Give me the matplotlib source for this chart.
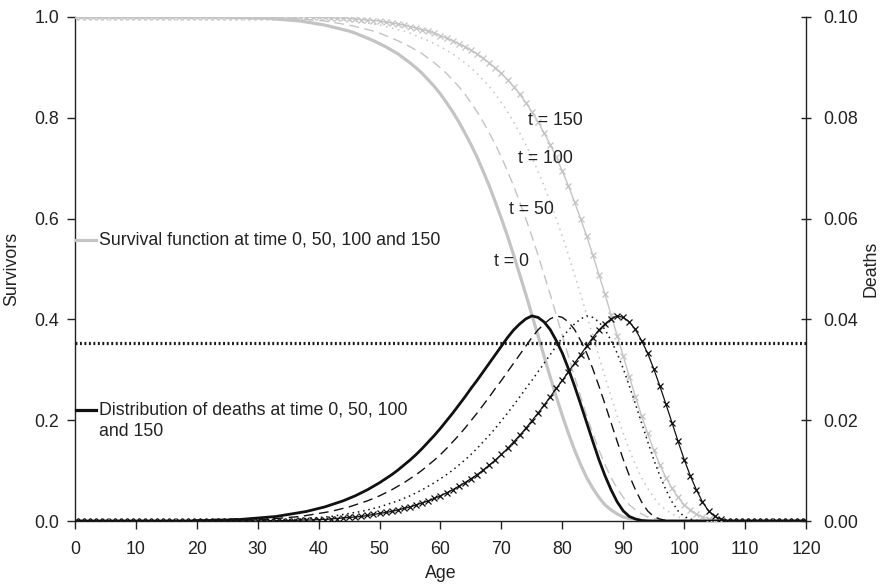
import matplotlib
matplotlib.use("Agg")
import matplotlib.pyplot as plt

plt.rcParams['font.family'] = ['Liberation Sans', 'DejaVu Sans']

ages = list(range(0, 121))

# Survival functions (left axis)
surv_t0 = [
    1, 1, 1, 1, 1, 1, 1, 1, 1, 1,
    1, 1, 1, 1, 1, 1, 1, 1, 1, 1,
    1, 1, 1, 1, 1, 1, 0.999, 0.999, 0.999, 0.998,
    0.998, 0.998, 0.997, 0.996, 0.995, 0.994, 0.993, 0.992, 0.990, 0.988,
    0.986, 0.984, 0.981, 0.978, 0.975, 0.972, 0.968, 0.963, 0.958, 0.953,
    0.947, 0.941, 0.934, 0.927, 0.918, 0.909, 0.899, 0.888, 0.875, 0.862,
    0.847, 0.830, 0.812, 0.792, 0.770, 0.747, 0.722, 0.694, 0.665, 0.633,
    0.600, 0.565, 0.528, 0.489, 0.450, 0.409, 0.368, 0.327, 0.286, 0.247,
    0.209, 0.174, 0.141, 0.112, 0.086, 0.065, 0.047, 0.032, 0.022, 0.014,
    0.008, 0.005, 0.003, 0.001, 0.001, 0, 0, 0, 0, 0,
    0, 0, 0, 0, 0, 0, 0, 0, 0, 0,
    0, 0, 0, 0, 0, 0, 0, 0, 0, 0,
    0]
surv_t50 = [
    1, 1, 1, 1, 1, 1, 1, 1, 1, 1,
    1, 1, 1, 1, 1, 1, 1, 1, 1, 1,
    1, 1, 1, 1, 1, 1, 1, 1, 1, 1,
    0.999, 0.999, 0.999, 0.998, 0.998, 0.998, 0.997, 0.996, 0.995, 0.994,
    0.993, 0.992, 0.990, 0.988, 0.986, 0.984, 0.981, 0.978, 0.975, 0.972,
    0.968, 0.963, 0.958, 0.953, 0.947, 0.941, 0.934, 0.927, 0.918, 0.909,
    0.899, 0.888, 0.875, 0.862, 0.847, 0.830, 0.812, 0.792, 0.770, 0.747,
    0.722, 0.694, 0.665, 0.633, 0.600, 0.565, 0.528, 0.489, 0.450, 0.409,
    0.368, 0.327, 0.286, 0.247, 0.209, 0.174, 0.141, 0.112, 0.086, 0.065,
    0.047, 0.032, 0.022, 0.014, 0.008, 0.005, 0.003, 0.001, 0.001, 0,
    0, 0, 0, 0, 0, 0, 0, 0, 0, 0,
    0, 0, 0, 0, 0, 0, 0, 0, 0, 0,
    0]
surv_t100 = [
    1, 1, 1, 1, 1, 1, 1, 1, 1, 1,
    1, 1, 1, 1, 1, 1, 1, 1, 1, 1,
    1, 1, 1, 1, 1, 1, 1, 1, 1, 1,
    1, 1, 1, 1, 1, 0.999, 0.999, 0.999, 0.998, 0.998,
    0.998, 0.997, 0.996, 0.995, 0.994, 0.993, 0.992, 0.990, 0.988, 0.986,
    0.984, 0.981, 0.978, 0.975, 0.972, 0.968, 0.963, 0.958, 0.953, 0.947,
    0.941, 0.934, 0.927, 0.918, 0.909, 0.899, 0.888, 0.875, 0.862, 0.847,
    0.830, 0.812, 0.792, 0.770, 0.747, 0.722, 0.694, 0.665, 0.633, 0.600,
    0.565, 0.528, 0.489, 0.450, 0.409, 0.368, 0.327, 0.286, 0.247, 0.209,
    0.174, 0.141, 0.112, 0.086, 0.065, 0.047, 0.032, 0.022, 0.014, 0.008,
    0.005, 0.003, 0.001, 0.001, 0, 0, 0, 0, 0, 0,
    0, 0, 0, 0, 0, 0, 0, 0, 0, 0,
    0]
surv_t150 = [
    1, 1, 1, 1, 1, 1, 1, 1, 1, 1,
    1, 1, 1, 1, 1, 1, 1, 1, 1, 1,
    1, 1, 1, 1, 1, 1, 1, 1, 1, 1,
    1, 1, 1, 1, 1, 1, 1, 1, 1, 0.999,
    0.999, 0.999, 0.998, 0.998, 0.998, 0.997, 0.996, 0.995, 0.994, 0.993,
    0.992, 0.990, 0.988, 0.986, 0.984, 0.981, 0.978, 0.975, 0.972, 0.968,
    0.963, 0.958, 0.953, 0.947, 0.941, 0.934, 0.927, 0.918, 0.909, 0.899,
    0.888, 0.875, 0.862, 0.847, 0.830, 0.812, 0.792, 0.770, 0.747, 0.722,
    0.694, 0.665, 0.633, 0.600, 0.565, 0.528, 0.489, 0.450, 0.409, 0.368,
    0.327, 0.286, 0.247, 0.209, 0.174, 0.141, 0.112, 0.086, 0.065, 0.047,
    0.032, 0.022, 0.014, 0.008, 0.005, 0.003, 0.001, 0.001, 0, 0,
    0, 0, 0, 0, 0, 0, 0, 0, 0, 0,
    0]

# Distribution of deaths (right axis)
deaths_t0 = [
    0, 0, 0, 0, 0, 0, 0, 0, 0, 0,
    0, 0, 0, 0, 0, 0, 0, 0, 0, 0,
    0.0001, 0.0001, 0.0001, 0.0002, 0.0002, 0.0002, 0.0003, 0.0003, 0.0004, 0.0005,
    0.0006, 0.0007, 0.0008, 0.0009, 0.0011, 0.0013, 0.0015, 0.0017, 0.0019, 0.0022,
    0.0025, 0.0028, 0.0032, 0.0036, 0.0040, 0.0045, 0.0050, 0.0056, 0.0062, 0.0069,
    0.0076, 0.0084, 0.0092, 0.0101, 0.0111, 0.0121, 0.0132, 0.0144, 0.0157, 0.0170,
    0.0184, 0.0199, 0.0214, 0.0230, 0.0246, 0.0263, 0.0279, 0.0296, 0.0313, 0.0330,
    0.0347, 0.0364, 0.0379, 0.0391, 0.0401, 0.0407, 0.0404, 0.0395, 0.0380, 0.0358,
    0.0333, 0.0302, 0.0268, 0.0232, 0.0195, 0.0158, 0.0122, 0.0090, 0.0062, 0.0038,
    0.0020, 0.0009, 0.0004, 0.0001, 0, 0, 0, 0, 0, 0,
    0, 0, 0, 0, 0, 0, 0, 0, 0, 0,
    0, 0, 0, 0, 0, 0, 0, 0, 0, 0,
    0]
deaths_t50 = [
    0, 0, 0, 0, 0, 0, 0, 0, 0, 0,
    0, 0, 0, 0, 0, 0, 0, 0, 0, 0,
    0, 0, 0, 0, 0.0001, 0.0001, 0.0001, 0.0002, 0.0002, 0.0002,
    0.0003, 0.0003, 0.0004, 0.0005, 0.0006, 0.0007, 0.0008, 0.0009, 0.0011, 0.0013,
    0.0015, 0.0017, 0.0019, 0.0022, 0.0025, 0.0028, 0.0032, 0.0036, 0.0040, 0.0045,
    0.0050, 0.0056, 0.0062, 0.0069, 0.0076, 0.0084, 0.0092, 0.0101, 0.0111, 0.0121,
    0.0132, 0.0144, 0.0157, 0.0170, 0.0184, 0.0199, 0.0214, 0.0230, 0.0246, 0.0263,
    0.0279, 0.0296, 0.0313, 0.0330, 0.0347, 0.0364, 0.0379, 0.0391, 0.0401, 0.0407,
    0.0404, 0.0395, 0.0380, 0.0358, 0.0333, 0.0302, 0.0268, 0.0232, 0.0195, 0.0158,
    0.0122, 0.0090, 0.0062, 0.0038, 0.0020, 0.0009, 0.0004, 0.0001, 0, 0,
    0, 0, 0, 0, 0, 0, 0, 0, 0, 0,
    0, 0, 0, 0, 0, 0, 0, 0, 0, 0,
    0]
deaths_t100 = [
    0, 0, 0, 0, 0, 0, 0, 0, 0, 0,
    0, 0, 0, 0, 0, 0, 0, 0, 0, 0,
    0, 0, 0, 0, 0, 0, 0, 0, 0, 0.0001,
    0.0001, 0.0001, 0.0002, 0.0002, 0.0002, 0.0003, 0.0003, 0.0004, 0.0005, 0.0006,
    0.0007, 0.0008, 0.0009, 0.0011, 0.0013, 0.0015, 0.0017, 0.0019, 0.0022, 0.0025,
    0.0028, 0.0032, 0.0036, 0.0040, 0.0045, 0.0050, 0.0056, 0.0062, 0.0069, 0.0076,
    0.0084, 0.0092, 0.0101, 0.0111, 0.0121, 0.0132, 0.0144, 0.0157, 0.0170, 0.0184,
    0.0199, 0.0214, 0.0230, 0.0246, 0.0263, 0.0279, 0.0296, 0.0313, 0.0330, 0.0347,
    0.0364, 0.0379, 0.0391, 0.0401, 0.0407, 0.0404, 0.0395, 0.0380, 0.0358, 0.0333,
    0.0302, 0.0268, 0.0232, 0.0195, 0.0158, 0.0122, 0.0090, 0.0062, 0.0038, 0.0020,
    0.0009, 0.0004, 0.0001, 0, 0, 0, 0, 0, 0, 0,
    0, 0, 0, 0, 0, 0, 0, 0, 0, 0,
    0]
deaths_t150 = [
    0, 0, 0, 0, 0, 0, 0, 0, 0, 0,
    0, 0, 0, 0, 0, 0, 0, 0, 0, 0,
    0, 0, 0, 0, 0, 0, 0, 0, 0, 0,
    0, 0, 0, 0, 0.0001, 0.0001, 0.0001, 0.0002, 0.0002, 0.0002,
    0.0003, 0.0003, 0.0004, 0.0005, 0.0006, 0.0007, 0.0008, 0.0009, 0.0011, 0.0013,
    0.0015, 0.0017, 0.0019, 0.0022, 0.0025, 0.0028, 0.0032, 0.0036, 0.0040, 0.0045,
    0.0050, 0.0056, 0.0062, 0.0069, 0.0076, 0.0084, 0.0092, 0.0101, 0.0111, 0.0121,
    0.0132, 0.0144, 0.0157, 0.0170, 0.0184, 0.0199, 0.0214, 0.0230, 0.0246, 0.0263,
    0.0279, 0.0296, 0.0313, 0.0330, 0.0347, 0.0364, 0.0379, 0.0391, 0.0401, 0.0407,
    0.0404, 0.0395, 0.0380, 0.0358, 0.0333, 0.0302, 0.0268, 0.0232, 0.0195, 0.0158,
    0.0122, 0.0090, 0.0062, 0.0038, 0.0020, 0.0009, 0.0004, 0.0001, 0, 0,
    0, 0, 0, 0, 0, 0, 0, 0, 0, 0,
    0]

reference_level = 0.353  # horizontal dotted line (left axis)

x_ticks = [0, 10, 20, 30, 40, 50, 60, 70, 80, 90, 100, 110, 120]
left_ticks = [0.0, 0.2, 0.4, 0.6, 0.8, 1.0]
right_ticks = [0.00, 0.02, 0.04, 0.06, 0.08, 0.10]

t_labels = ["t = 0", "t = 50", "t = 100", "t = 150"]
t_label_pos = [(71.6, 0.514), (75.0, 0.619), (77.3, 0.719), (78.9, 0.794)]

FS = 12.8
GRAY = "#c4c4c4"
TXT = '#222222'

fig = plt.figure(figsize=(8.81, 5.88), dpi=100)
ax = fig.add_axes([0.0851, 0.1139, 0.8298, 0.8572])
ax2 = ax.twinx()

# survival curves (gray)
ax.plot(ages, surv_t0, color=GRAY, lw=2.3, solid_capstyle='butt', zorder=3)
ax.plot(ages, surv_t50, color=GRAY, lw=1.0, linestyle=(0, (7, 4)), zorder=3)
ax.plot(ages, surv_t100, color=GRAY, lw=1.1, linestyle=(0, (1, 3)), zorder=3)
ax.plot(ages, surv_t150, color=GRAY, lw=1.0, marker='x', markersize=4.8,
        markeredgewidth=0.9, zorder=3)

ax.plot([x_ticks[0], x_ticks[-1]], [reference_level, reference_level],
        color='#1a1a1a', lw=2.3, linestyle=(0, (0.6, 0.8)), zorder=4)

# legend-like annotations
ax.plot([0.2, 3.4], [0.557, 0.557], color=GRAY, lw=2.3, clip_on=False, zorder=5)
ax.text(4.0, 0.557, "Survival function at time 0, 50, 100 and 150",
        fontsize=FS, va='center', ha='left', color=TXT)
ax.plot([0.2, 3.4], [0.220, 0.220], color='#111111', lw=2.3, clip_on=False, zorder=5)
ax.text(4.0, 0.220, "Distribution of deaths at time 0, 50, 100",
        fontsize=FS, va='center', ha='left', color=TXT)
ax.text(4.0, 0.177, "and 150", fontsize=FS, va='center', ha='left', color=TXT)

for lab, (xx, yy) in zip(t_labels, t_label_pos):
    ax.text(xx, yy, lab, fontsize=FS, ha='center', va='center', color=TXT)

# deaths (black)
ax2.plot(ages, deaths_t0, color='#111111', lw=2.0, zorder=3)
ax2.plot(ages, deaths_t50, color='#111111', lw=1.0, linestyle=(0, (7, 4)), zorder=3)
ax2.plot(ages, deaths_t100, color='#111111', lw=1.1, linestyle=(0, (1, 2.5)), zorder=3)
ax2.plot(ages, deaths_t150, color='#111111', lw=0.9, marker='x', markersize=4.8,
         markeredgewidth=0.9, zorder=3)

ax.set_xlim(0, 120)
ax.set_ylim(0, 1.0)
ax2.set_ylim(0, 0.10)

ax.set_xticks(x_ticks)
ax.set_xticklabels([str(v) for v in x_ticks])
ax.set_yticks(left_ticks)
ax.set_yticklabels([f"{v:.1f}" for v in left_ticks])
ax2.set_yticks(right_ticks)
ax2.set_yticklabels([f"{v:.2f}" for v in right_ticks])

for a in (ax, ax2):
    a.spines['top'].set_visible(False)
ax.spines['right'].set_visible(False)
ax2.spines['left'].set_visible(False)
ax2.spines['bottom'].set_visible(False)
for sp in ('left', 'bottom'):
    ax.spines[sp].set_color(TXT)
    ax.spines[sp].set_linewidth(1.0)
ax2.spines['right'].set_color(TXT)
ax2.spines['right'].set_linewidth(1.0)

ax.tick_params(axis='x', direction='out', length=5.5, width=1.0, labelsize=FS,
               pad=9, colors=TXT)
ax.tick_params(axis='y', direction='out', length=5.5, width=1.0, labelsize=FS,
               pad=6, colors=TXT)
ax2.tick_params(axis='y', direction='inout', length=7, width=1.0, labelsize=FS,
                pad=9, colors=TXT)

ax.set_xlabel("Age", fontsize=FS, color=TXT, labelpad=5)
ax.set_ylabel("Survivors", fontsize=FS, color=TXT, labelpad=10)
ax2.set_ylabel("Deaths", fontsize=FS, color=TXT, labelpad=3)

fig.savefig("out.png", dpi=100)
